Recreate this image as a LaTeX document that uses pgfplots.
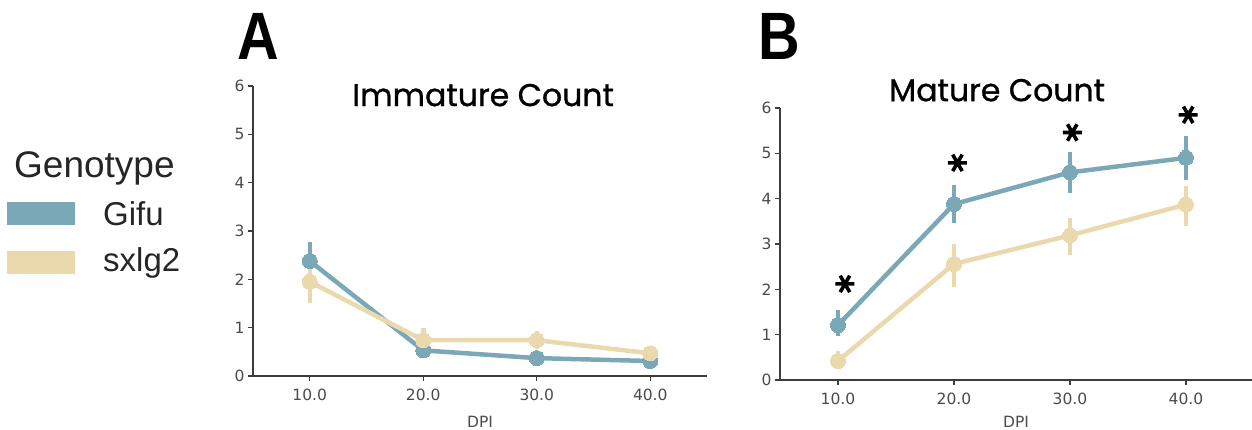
\documentclass[border=0pt]{standalone}
\usepackage{pgfplots}
\pgfplotsset{compat=1.18}
\usepackage{fontspec}
\setmainfont{DejaVu Sans}
\newfontfamily\lib{Liberation Sans}
\newfontfamily\pop[FakeBold=0.9]{Poppins}
\definecolor{gifu}{HTML}{7BA8B6}
\definecolor{sxl}{HTML}{EAD9AD}
\definecolor{axgray}{HTML}{3C3C3C}
\definecolor{tickgray}{HTML}{4A4A4A}
\pgfplotsset{
  myaxis/.style={
    scale only axis,
    axis lines*=left,
    axis line style={draw=axgray, line width=1.4pt},
    tick style={draw=axgray, line width=1.2pt},
    major tick length=5pt,
    tick align=outside,
    ymin=0, ymax=6, ytick={0,1,2,3,4,5,6},
    xtick={0,1,2,3}, xticklabels={10.0,20.0,30.0,40.0},
    /pgf/number format/assume math mode=true,
    tick label style={font=\fontsize{15.5}{15.5}\selectfont, text=tickgray},
    xlabel={DPI},
    xlabel style={font=\fontsize{15.5}{15.5}\selectfont, text=tickgray, yshift=-9pt},
    every x tick label/.append style={yshift=-4pt},
    clip=false,
  },
  ser/.style={color=#1, line width=4.5pt, mark=*, mark size=7.5pt,
    mark options={draw=#1, fill=#1, line width=0pt},
    error bars/.cd, y dir=both, y explicit, error mark=none,
    error bar style={line width=4.5pt, color=#1}},
}
\begin{document}
\begin{tikzpicture}[x=1pt,y=1pt]
\path[use as bounding box] (0,0) rectangle (1252,429);
% Panel letters
\node[font=\lib\bfseries\fontsize{67}{67}\selectfont, inner sep=0] at (258,393) {\scalebox{0.86}[1]{A}};
\node[font=\lib\bfseries\fontsize{67}{67}\selectfont, inner sep=0] at (779,393) {\scalebox{0.86}[1]{B}};
% Legend
\node[font=\lib\fontsize{37}{37}\selectfont, text=black!85, anchor=west, inner sep=0] at (14,261) {Genotype};
\fill[gifu] (7,204) rectangle (75,227);
\fill[sxl] (7,155) rectangle (75,178);
\node[font=\lib\fontsize{33}{33}\selectfont, text=black!85, anchor=west, inner sep=0] at (103,215.5) {Gifu};
\node[font=\lib\fontsize{33}{33}\selectfont, text=black!85, anchor=west, inner sep=0] at (103,166.5) {sxlg2};
% Panel A
\begin{axis}[myaxis, at={(253pt,53pt)}, anchor=south west, width=454pt, height=290pt,
  xmin=-0.5, xmax=3.5,
  title={Immature Count}, title style={font=\pop\fontsize{31.5}{31.5}\selectfont, at={(0.507,0.910)}, anchor=base, inner sep=0}]
\addplot[ser=gifu] coordinates {
 (0,2.38) +- (0,0.40)
 (1,0.53) +- (0,0.10)
 (2,0.37) +- (0,0.07)
 (3,0.31) +- (0,0.06)
};
\addplot[ser=sxl] coordinates {
 (0,1.95) +- (0,0.43)
 (1,0.74) +- (0,0.25)
 (2,0.74) +- (0,0.19)
 (3,0.47) +- (0,0.12)
};
\end{axis}
% Panel B
\begin{axis}[myaxis, at={(780pt,49pt)}, anchor=south west, width=472pt, height=272pt,
  xmin=-0.5, xmax=3.57,
  xlabel style={yshift=4pt},
  title={Mature Count}, title style={font=\pop\fontsize{31.5}{31.5}\selectfont, at={(0.46,1.003)}, anchor=base, inner sep=0}]
\addplot[ser=gifu] coordinates {
 (0,1.21) += (0,0.34) -= (0,0.25)
 (1,3.88) += (0,0.42) -= (0,0.42)
 (2,4.58) += (0,0.44) -= (0,0.46)
 (3,4.90) += (0,0.48) -= (0,0.48)
};
\addplot[ser=sxl] coordinates {
 (0,0.42) += (0,0.21) -= (0,0.16)
 (1,2.56) += (0,0.43) -= (0,0.50)
 (2,3.19) += (0,0.38) -= (0,0.43)
 (3,3.87) += (0,0.40) -= (0,0.47)
};
\addplot[only marks, mark=asterisk, mark size=9.5pt, mark options={rotate=90, line width=3.6pt, draw=black}] coordinates {
 (0.06,2.12) (1.03,4.79) (2.02,5.46) (3.02,5.85)
};
\end{axis}
\end{tikzpicture}
\end{document}
